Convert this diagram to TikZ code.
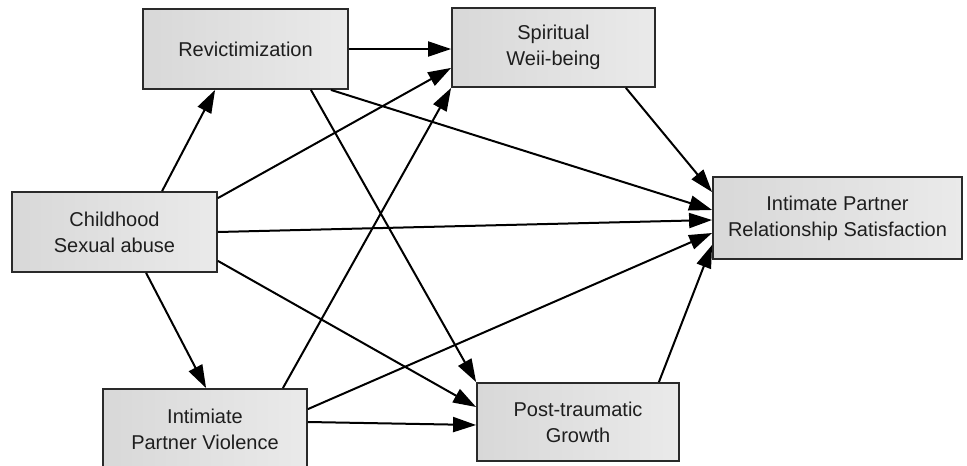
\documentclass[tikz,border=0pt]{standalone}
\usepackage{fontspec}
\setmainfont{Liberation Sans}
\usetikzlibrary{arrows.meta}
\definecolor{boxL}{HTML}{D8D8D8}
\definecolor{boxR}{HTML}{EAEAEA}
\definecolor{edge}{HTML}{2A2A2A}
\definecolor{txt}{HTML}{1E1E1E}
\tikzset{
  varbox/.style={draw=edge, line width=1.8pt, left color=boxL, right color=boxR,
    minimum width=#1, inner sep=0pt, align=center, text=txt,
    font=\fontsize{20}{26}\selectfont},
  varbox/.default=204pt,
  link/.style={line width=2pt, draw=black, -{Triangle[length=23pt,width=15pt]}}
}
\begin{document}
\begin{tikzpicture}[x=1pt,y=-1pt]
\path[use as bounding box] (0,0) rectangle (967,466);
\node[varbox=205pt, minimum height=80pt] (rev) at (245.5,49) {Revictimization};
\node[varbox=203pt, minimum height=79pt] (spi) at (553.5,47.5) {Spiritual\\Weii-being};
\node[varbox=205pt, minimum height=80pt] (csa) at (114.5,232) {Childhood\\Sexual abuse};
\node[varbox=249pt, minimum height=82pt] (iprs) at (837.5,218) {Intimate Partner\\Relationship Satisfaction};
\node[varbox=204pt, minimum height=80pt] (ipv) at (205,429) {Intimiate\\Partner Violence};
\node[varbox=202pt, minimum height=78pt] (ptg) at (578,422) {Post-traumatic\\Growth};
% connectors
\draw[link] ([xshift=151pt]csa.north west) -- ([xshift=73pt]rev.south west);
\draw[link] ([yshift=-7pt]csa.north east) -- ([yshift=20pt]spi.south west);
\draw[link] (csa.east) -- ([yshift=-2pt]iprs.west);
\draw[link] ([xshift=135pt]csa.south west) -- ([xshift=104pt]ipv.north west);
\draw[link] ([yshift=12pt]csa.south east) -- ([yshift=15pt]ptg.west);
\draw[link] (rev.east) -- (rev.east -| spi.west);
\draw[link] ([xshift=-18pt]rev.south east) -- ([yshift=8pt]iprs.west);
\draw[link] ([xshift=-38pt]rev.south east) -- (ptg.north west);
\draw[link] ([xshift=-25pt]ipv.north east) -- (spi.south west);
\draw[link] ([yshift=-21pt]ipv.north east) -- ([yshift=-15pt]iprs.west);
\draw[link] ([yshift=7pt]ipv.east) -- ([yshift=-3pt]ptg.west);
\draw[link] ([xshift=-30pt]spi.south east) -- ([yshift=-16pt]iprs.north west);
\draw[link] ([xshift=-21pt]ptg.north east) -- ([yshift=15pt]iprs.south west);
\end{tikzpicture}
\end{document}
